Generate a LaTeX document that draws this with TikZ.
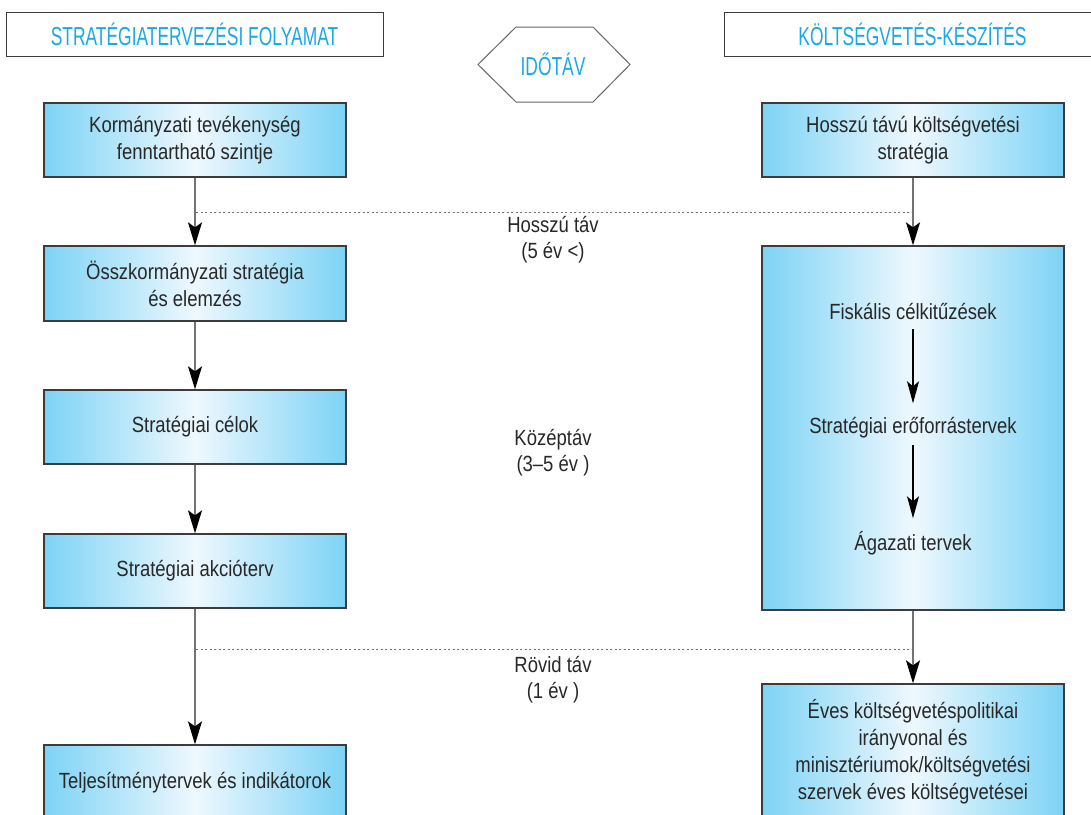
\documentclass[tikz,border=0pt]{standalone}
\usepackage{fontspec}
\setmainfont{Liberation Sans}[FakeStretch=0.84]
\newfontfamily\hdfont{Liberation Sans}[FakeStretch=0.67]
\usetikzlibrary{arrows.meta}
\definecolor{hdcyan}{RGB}{26,168,230}
\definecolor{boxedge}{RGB}{125,211,245}
\definecolor{boxmid}{RGB}{238,248,254}
\definecolor{txt}{RGB}{40,40,40}
\definecolor{conn}{RGB}{115,115,115}
\definecolor{frame}{RGB}{60,60,60}
\begin{document}
\begin{tikzpicture}[x=1pt,y=-1pt,
  stagebox/.style={draw=frame, line width=1.3pt, left color=boxedge, right color=boxedge, middle color=boxmid,
    minimum width=302pt, align=center, text=txt, font=\fontsize{22}{27}\selectfont, inner sep=0pt},
  header/.style={draw=frame, line width=1pt, fill=white, minimum width=377pt, minimum height=44pt,
    text=hdcyan, font=\hdfont\fontsize{26}{28}\selectfont, inner sep=0pt},
  inner/.style={align=center, text=txt, font=\fontsize{22}{27}\selectfont, inner sep=0pt, minimum height=34pt},
  period/.style={align=center, text=txt, font=\fontsize{22}{26}\selectfont, inner sep=0pt},
  flow/.style={draw=conn, line width=1.5pt, -{Stealth[length=23pt,width=14pt,inset=5pt,black]}},
  innerflow/.style={draw=black, line width=1.2pt, shorten >=7.5pt, -{Stealth[length=22pt,width=12pt,inset=5pt,black]}},
  guide/.style={draw=conn, line width=1pt, dash pattern=on 2pt off 2.5pt}
]
\useasboundingbox (0,0) rectangle (1091,814);
\clip (0,0) rectangle (1091,814);

% headers
\node[header] (hl) at (194.5,34) {STRATÉGIATERVEZÉSI FOLYAMAT};
\node[header] (hr) at (912.5,34) {KÖLTSÉGVETÉS-KÉSZÍTÉS};
\draw[draw=black!60, line width=1pt] (478,64.5) -- (516,27) -- (593,27) -- (630,64.5) -- (593,102) -- (516,102) -- cycle;
\node[text=hdcyan, font=\hdfont\fontsize{26}{28}\selectfont, inner sep=0pt] (ido) at (553,64.5) {IDŐTÁV};

% left column
\node[stagebox, minimum height=74pt] (l1) at (195,140) {Kormányzati tevékenység\\fenntartható szintje};
\node[stagebox, minimum height=75pt] (l2) at (195,283.5) {Összkormányzati stratégia\\és elemzés};
\node[stagebox, minimum height=74pt] (l3) at (195,427) {Stratégiai célok};
\node[stagebox, minimum height=74pt] (l4) at (195,571) {Stratégiai akcióterv};
\node[stagebox, minimum height=75pt] (l5) at (195,782.5) {Teljesítménytervek és indikátorok};

% right column
\node[stagebox, minimum height=74pt] (r1) at (913,140) {Hosszú távú költségvetési\\stratégia};
\node[stagebox, minimum height=364pt] (r2) at (913,428) {};
\node[stagebox, minimum height=136pt] (r3) at (913,752) {Éves költségvetéspolitikai\\irányvonal és\\minisztériumok/költségvetési\\szervek éves költségvetései};

\node[inner] (f1) at (913,312) {Fiskális célkitűzések};
\node[inner] (f2) at (913,428) {Stratégiai erőforrástervek};
\node[inner] (f3) at (913,543) {Ágazati tervek};

% time periods
\node[period] (t1) at (553,240) {Hosszú táv\\(5 év <)};
\node[period] (t2) at (553,453) {Középtáv\\(3–5 év )};
\node[period] (t3) at (553,680) {Rövid táv\\(1 év )};

% dotted guides
\coordinate (g1l) at (196,212);
\coordinate (g1r) at (913,212);
\coordinate (g2l) at (196,649);
\coordinate (g2r) at (913,649);
\draw[guide] (g1l) -- (g1r);
\draw[guide] (g2l) -- (g2r);

% connectors
\draw[flow] (l1) -- (l2);
\draw[flow] (l2) -- (l3);
\draw[flow] (l3) -- (l4);
\draw[flow] (l4) -- (l5);
\draw[flow] (r1) -- (r2);
\draw[flow] (r2) -- (r3);
\draw[innerflow] (f1) -- (f2);
\draw[innerflow] (f2) -- (f3);
\end{tikzpicture}
\end{document}
